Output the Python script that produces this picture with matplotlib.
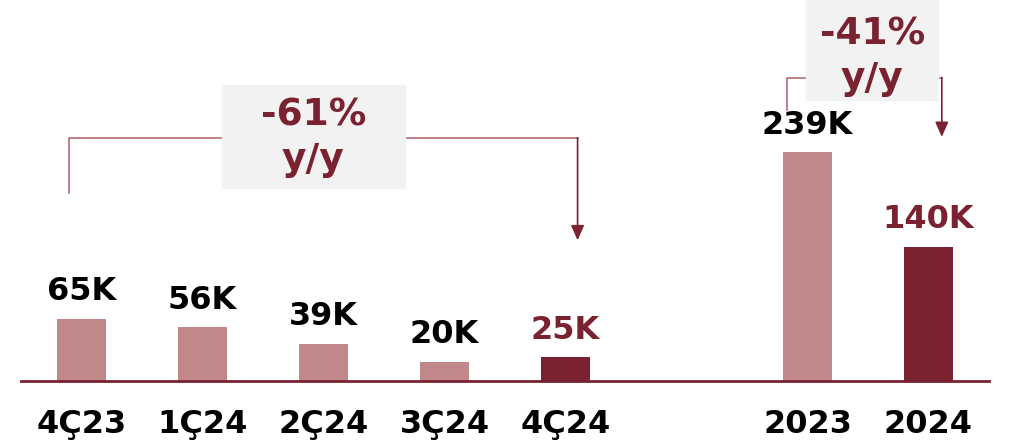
import matplotlib.pyplot as plt
from matplotlib.patches import Rectangle

# data
categories = ['4Ç23', '1Ç24', '2Ç24', '3Ç24', '4Ç24', '2023', '2024']
positions = [0, 1, 2, 3, 4, 6, 7]
values = [65, 56, 39, 20, 25, 239, 140]
value_labels = ['65K', '56K', '39K', '20K', '25K', '239K', '140K']
highlight = [False, False, False, False, True, False, True]
changes = ['-61%\ny/y', '-41%\ny/y']

LIGHT = '#C08888'
DARK = '#7B2230'
BOX = '#F2F2F2'

plt.rcParams['font.family'] = 'DejaVu Sans'
fig = plt.figure(figsize=(10.13, 4.47), dpi=100)
ax = fig.add_axes([0.0207, 0.1477, 0.9556, 0.8523])

colors = [DARK if h else LIGHT for h in highlight]
ax.bar(positions, values, width=0.4, color=colors, zorder=2)

for x, v, lab, h in zip(positions, values, value_labels, highlight):
    ax.text(x, v + 12, lab, ha='center', va='bottom', fontsize=23,
            fontweight='bold', color=DARK if h else 'black')

ax.set_xlim(-0.5, 7.5)
ax.set_ylim(0, 398)
ax.set_xticks(positions)
ax.set_xticklabels(categories, fontsize=23, fontweight='bold')
ax.tick_params(axis='x', length=0, pad=20)
ax.set_yticks([])
for s in ['top', 'right', 'left']:
    ax.spines[s].set_visible(False)
ax.spines['bottom'].set_color(DARK)
ax.spines['bottom'].set_linewidth(2)

# y/y brackets
def bracket(x0, x1, y_left, y_top, y_tip, box, text, text_y):
    ax.plot([x0, x0, x1], [y_left, y_top, y_top], color='#B86A74', lw=1.2,
            zorder=1, clip_on=False)
    ax.annotate('', xy=(x1, y_tip), xytext=(x1, y_top),
                arrowprops=dict(arrowstyle='-|>,head_length=0.9,head_width=0.4',
                                color=DARK, lw=1.2, shrinkA=0, shrinkB=0),
                zorder=1, annotation_clip=False)
    bx0, by0, bx1, by1 = box
    ax.add_patch(Rectangle((bx0, by0), bx1 - bx0, by1 - by0, color=BOX,
                           zorder=3, clip_on=False))
    ax.text((bx0 + bx1) / 2, text_y, text, ha='center', va='center',
            fontsize=27, fontweight='bold', color=DARK, zorder=4,
            linespacing=1.3)

bracket(-0.1, 4.1, 196, 254, 147, (1.16, 202, 2.67, 309), changes[0], 254)
bracket(5.83, 7.11, 283, 317, 255, (5.99, 294, 7.08, 400), changes[1], 339)

plt.savefig('out.png', dpi=100)
